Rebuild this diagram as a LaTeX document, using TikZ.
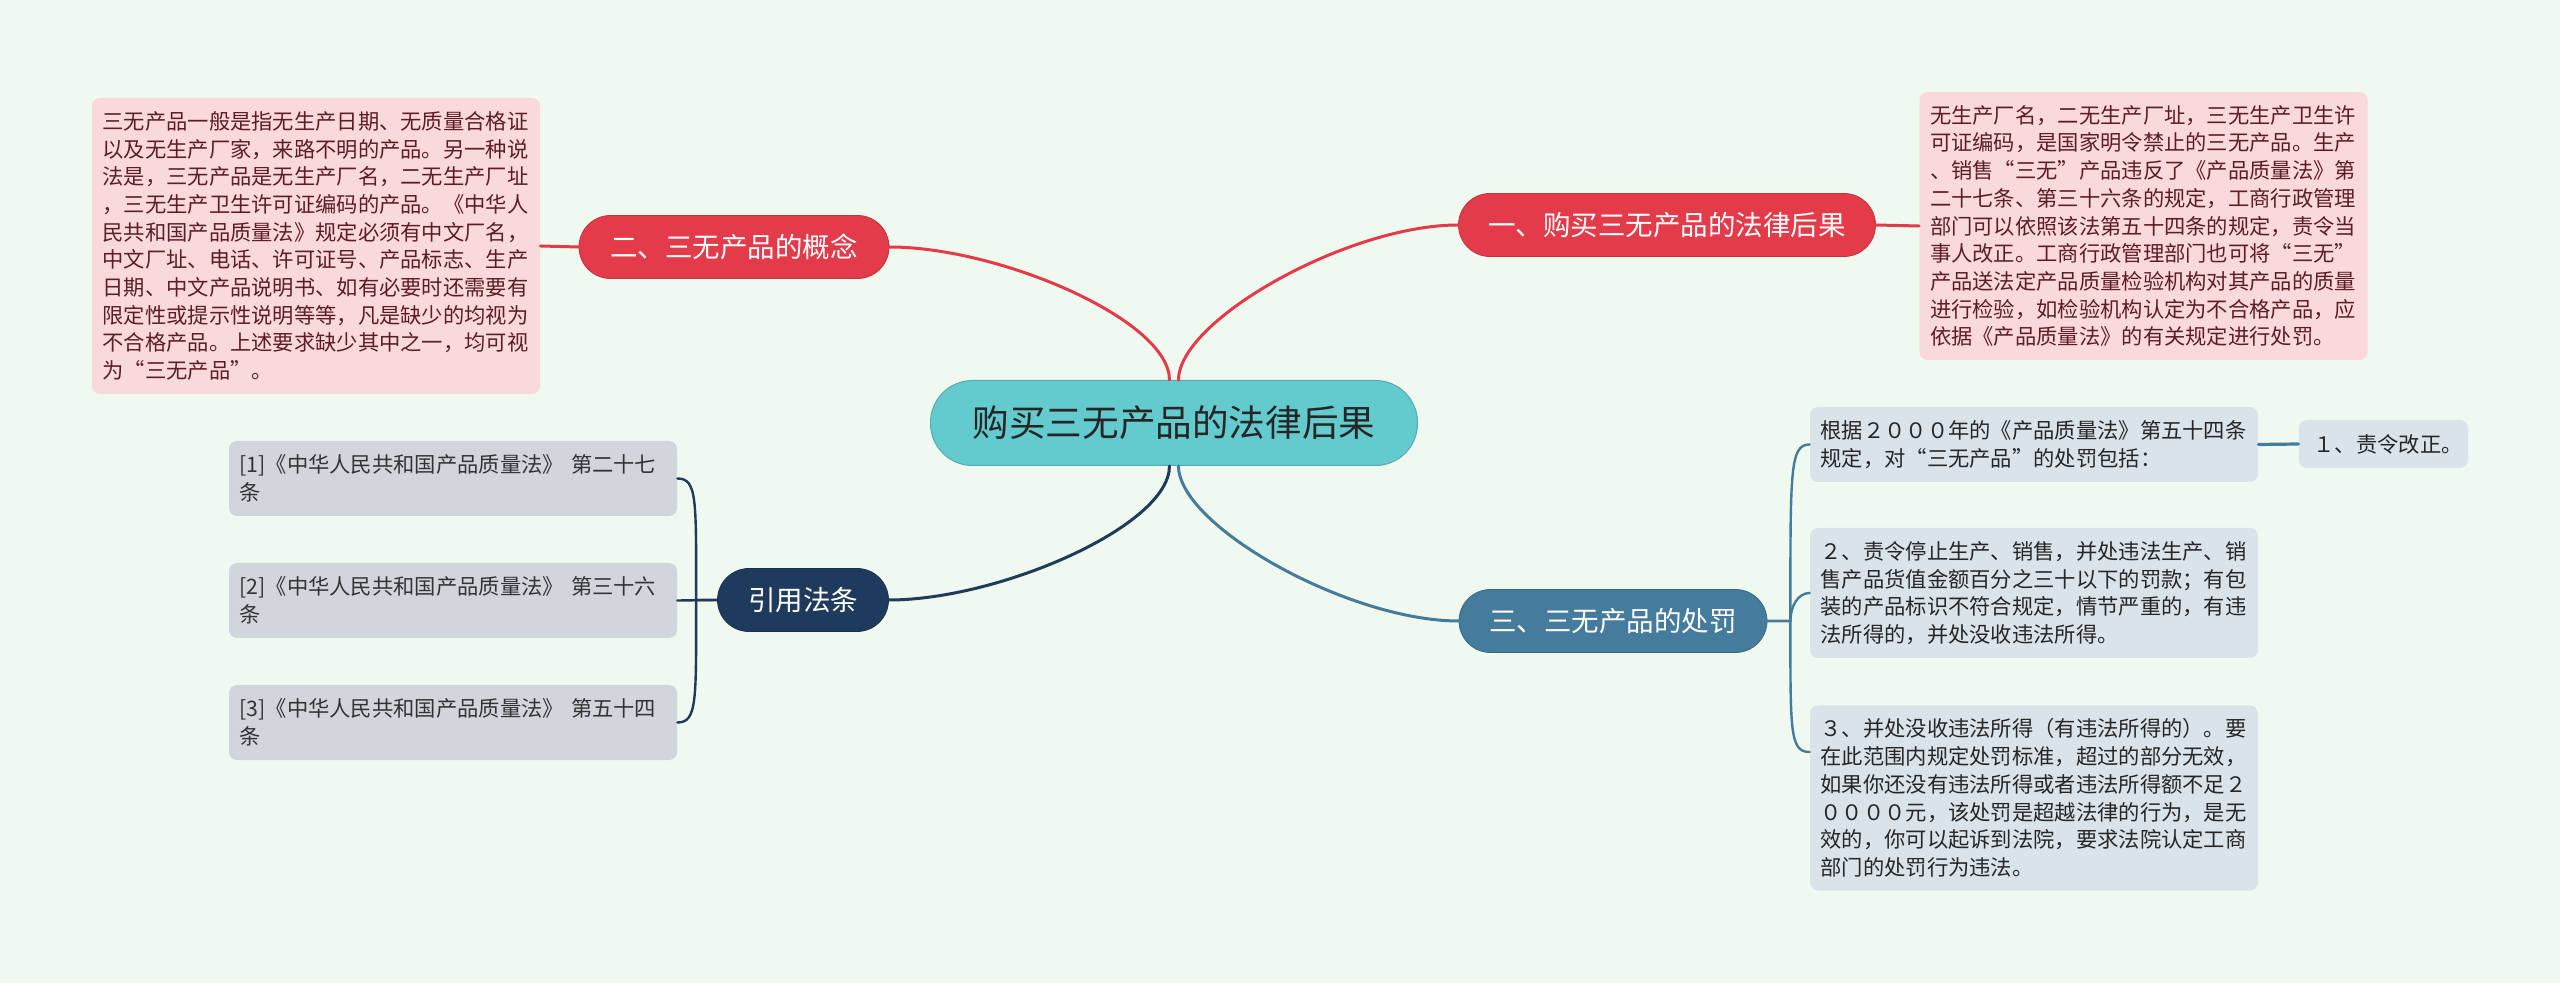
\documentclass[tikz,border=0pt]{standalone}
\usepackage{fontspec}
\setmainfont{Noto Sans CJK SC}
\usetikzlibrary{positioning}
\definecolor{bgmint}{HTML}{F0F9EF}
\definecolor{rootteal}{HTML}{63CACD}
\definecolor{redbr}{HTML}{E33B4A}
\definecolor{navybr}{HTML}{1E3A5C}
\definecolor{steelbr}{HTML}{457B9D}
\definecolor{pinkbox}{HTML}{FAD9DD}
\definecolor{pinktext}{HTML}{5C1E24}
\definecolor{graybox}{HTML}{D1D6DD}
\definecolor{bluebox}{HTML}{DAE3EA}

\begin{document}
\begin{tikzpicture}[x=0.5pt,y=-0.5pt,line cap=round,
  pill/.style={rounded corners=15.75pt,minimum height=31.5pt,inner sep=0pt,text=white,
    font=\fontsize{13.75}{16}\selectfont},
  note/.style={rounded corners=4pt,text width=213.5pt,inner xsep=5.25pt,inner ysep=6.5pt,
    align=left,font=\fontsize{10.65}{13.85}\selectfont},
  main/.style={line width=1.5pt},
  sub/.style={line width=1.2pt}]
\fill[bgmint] (0,0) rectangle (2560,983);

\node[rounded corners=21pt,fill=rootteal,draw=rootteal!85!black,line width=0.5pt,
  minimum width=243.5pt,minimum height=42.5pt,text=black!85,
  font=\fontsize{18.3}{20}\selectfont] (root) at (1174,423) {购买三无产品的法律后果};

\node[pill,fill=redbr,draw=redbr!85!black,minimum width=208.5pt] (result) at (1667,225) {一、购买三无产品的法律后果};
\node[pill,fill=redbr,draw=redbr!85!black,minimum width=155pt] (concept) at (734,247) {二、三无产品的概念};
\node[pill,fill=navybr,draw=navybr!85!black,minimum width=85.5pt] (cite) at (803,600) {引用法条};
\node[pill,fill=steelbr,draw=steelbr!85!black,minimum width=154pt] (penalty) at (1613,621) {三、三无产品的处罚};

\node[note,fill=pinkbox,text=pinktext,minimum height=148pt] (conceptText) at (316,246) {三无产品一般是指无生产日期、无质量合格证\\
以及无生产厂家，来路不明的产品。另一种说\\
法是，三无产品是无生产厂名，二无生产厂址\\
，三无生产卫生许可证编码的产品。《中华人\\
民共和国产品质量法》规定必须有中文厂名，\\
中文厂址、电话、许可证号、产品标志、生产\\
日期、中文产品说明书、如有必要时还需要有\\
限定性或提示性说明等等，凡是缺少的均视为\\
不合格产品。上述要求缺少其中之一，均可视\\
为“三无产品”。};

\node[note,fill=pinkbox,text=pinktext,minimum height=134pt] (resultText) at (2143.5,226) {无生产厂名，二无生产厂址，三无生产卫生许\\
可证编码，是国家明令禁止的三无产品。生产\\
、销售“三无”产品违反了《产品质量法》第\\
二十七条、第三十六条的规定，工商行政管理\\
部门可以依照该法第五十四条的规定，责令当\\
事人改正。工商行政管理部门也可将“三无”\\
产品送法定产品质量检验机构对其产品的质量\\
进行检验，如检验机构认定为不合格产品，应\\
依据《产品质量法》的有关规定进行处罚。};

\node[note,fill=graybox,text=black!80,minimum height=37.5pt] (law1) at (453,478.5) {[1]《中华人民共和国产品质量法》~第二十七\\条};
\node[note,fill=graybox,text=black!80,minimum height=37.5pt] (law2) at (453,600.5) {[2]《中华人民共和国产品质量法》~第三十六\\条};
\node[note,fill=graybox,text=black!80,minimum height=37.5pt] (law3) at (453,722.5) {[3]《中华人民共和国产品质量法》~第五十四\\条};

\node[note,fill=bluebox,text=black!85,minimum height=37.5pt] (penA) at (2034,444.5) {根据２０００年的《产品质量法》第五十四条\\
规定，对“三无产品”的处罚包括：};
\node[note,fill=bluebox,text=black!85,text width=70pt,inner xsep=7.25pt,minimum height=24pt] (pen1) at (2383.5,444) {１、责令改正。};
\node[note,fill=bluebox,text=black!85,minimum height=65pt] (pen2) at (2034,593) {２、责令停止生产、销售，并处违法生产、销\\
售产品货值金额百分之三十以下的罚款；有包\\
装的产品标识不符合规定，情节严重的，有违\\
法所得的，并处没收违法所得。};
\node[note,fill=bluebox,text=black!85,minimum height=92.5pt] (pen3) at (2034,798) {３、并处没收违法所得（有违法所得的）。要\\
在此范围内规定处罚标准，超过的部分无效，\\
如果你还没有违法所得或者违法所得额不足２\\
００００元，该处罚是超越法律的行为，是无\\
效的，你可以起诉到法院，要求法院认定工商\\
部门的处罚行为违法。};

\draw[main,redbr] ([xshift=-2.25pt]root.north) .. controls +(0,-60) and +(110,0) .. (concept.east);
\draw[main,redbr] ([xshift=2.25pt]root.north) .. controls +(0,-60) and +(-110,0) .. (result.west);
\draw[main,navybr] ([xshift=-2.25pt]root.south) .. controls +(0,60) and +(110,0) .. (cite.east);
\draw[main,steelbr] ([xshift=2.25pt]root.south) .. controls +(0,60) and +(-110,0) .. (penalty.west);

\draw[main,redbr] (concept.west) -- (conceptText.east);
\draw[main,redbr] (result.east) -- (resultText.west);

\draw[sub,navybr] (cite.west) -- (law2.east);
\draw[sub,navybr] (cite.west) -- ++(-21,0) .. controls +(0,-100) and +(20,0) .. (law1.east);
\draw[sub,navybr] (cite.west) -- ++(-21,0) .. controls +(0,100) and +(20,0) .. (law3.east);

\draw[sub,steelbr] (penalty.east) -- ++(23,0) .. controls +(0,-150) and +(-20,0) .. (penA.west);
\draw[sub,steelbr] (penalty.east) -- ++(23,0) .. controls +(0,-14) and +(-12,0) .. (pen2.west);
\draw[sub,steelbr] (penalty.east) -- ++(23,0) .. controls +(0,110) and +(-20,0) .. ([yshift=23pt]pen3.west);
\draw[line width=1.6pt,steelbr] (penA.east) -- (pen1.west);
\end{tikzpicture}
\end{document}
